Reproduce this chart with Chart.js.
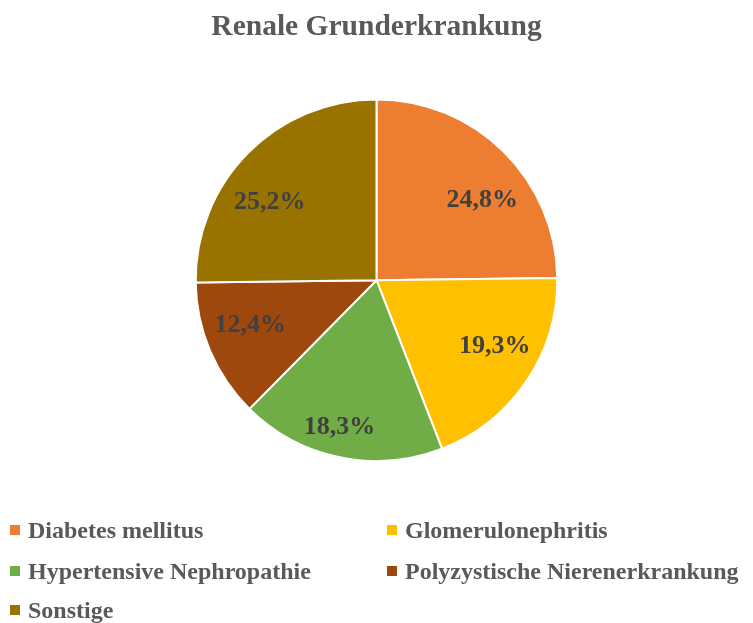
<!DOCTYPE html>
<html>
<head>
<meta charset="utf-8">
<script src="https://cdn.jsdelivr.net/npm/chart.js@4/dist/chart.umd.min.js"></script>
<style>
  html, body { margin: 0; padding: 0; background: #fff; }
  #wrap { position: relative; width: 753px; height: 623px; overflow: hidden; }
  #c { position: absolute; left: 0; top: 0; }
  #legend { position: absolute; left: 0; top: 512px; width: 753px;
    font-family: "Liberation Serif", "Times New Roman", serif; font-weight: bold;
    font-size: 24px; letter-spacing: 0px; color: #595959; }
  .item { position: absolute; white-space: nowrap; height: 28px; display: flex; align-items: center; }
  .box { display: inline-block; width: 10px; height: 10px; margin-right: 8px; flex: none; }
</style>
</head>
<body>
<div id="wrap">
  <canvas id="c" width="753" height="623"></canvas>
  <div id="legend"></div>
</div>
<script>
const titleText = "Renale Grunderkrankung";
const categories = ["Diabetes mellitus", "Glomerulonephritis", "Hypertensive Nephropathie", "Polyzystische Nierenerkrankung", "Sonstige"];
const values = [24.8, 19.3, 18.3, 12.4, 25.2];
const colors = ["#ED7D31", "#FFC000", "#70AD47", "#9E480E", "#997300"];

const labelPlugin = {
  id: 'sliceLabels',
  afterDatasetsDraw(chart) {
    const ctx = chart.ctx;
    const meta = chart.getDatasetMeta(0);
    ctx.save();
    ctx.font = 'bold 26px "Liberation Serif", "Times New Roman", serif';
    ctx.fillStyle = '#404040';
    ctx.textAlign = 'center';
    ctx.textBaseline = 'middle';
    const pull = 7 * Math.PI / 180;
    meta.data.forEach((arc, i) => {
      const txt = values[i].toFixed(1).replace('.', ',') + '%';
      const hw = ctx.measureText(txt).width / 2;
      const hh = 10;
      let mid = (arc.startAngle + arc.endAngle) / 2;
      // best-fit style: pull labels slightly toward the horizontal axis
      mid = mid - pull * Math.sin(2 * mid);
      const ux = Math.cos(mid), uy = Math.sin(mid);
      const target = arc.outerRadius - 11;
      const b = Math.abs(ux) * hw + Math.abs(uy) * hh;
      const c = hw * hw + hh * hh - target * target;
      const d = -b + Math.sqrt(b * b - c);
      ctx.fillText(txt, arc.x + ux * d, arc.y + uy * d + 4);
    });
    ctx.restore();
  }
};

new Chart(document.getElementById('c'), {
  type: 'pie',
  data: {
    labels: categories,
    datasets: [{
      data: values,
      backgroundColor: colors,
      borderColor: '#ffffff',
      borderWidth: 2
    }]
  },
  options: {
    responsive: false,
    animation: false,
    layout: { padding: { top: 0, bottom: 161, left: 0, right: 0 } },
    plugins: {
      legend: { display: false },
      tooltip: { enabled: false },
      title: {
        display: true,
        text: titleText,
        color: '#595959',
        font: { family: '"Liberation Serif", "Times New Roman", serif', size: 29.5, weight: 'bold' },
        padding: { top: 10, bottom: 53 }
      }
    }
  },
  plugins: [labelPlugin]
});

const legend = document.getElementById('legend');
const colX = [10, 387];
const rowY = [4, 45, 84];
categories.forEach((name, i) => {
  const d = document.createElement('div');
  d.className = 'item';
  d.style.left = colX[i % 2] + 'px';
  d.style.top = rowY[Math.floor(i / 2)] + 'px';
  d.innerHTML = '<span class="box" style="background:' + colors[i] + '"></span>';
  d.appendChild(document.createTextNode(name));
  legend.appendChild(d);
});
</script>
</body>
</html>
